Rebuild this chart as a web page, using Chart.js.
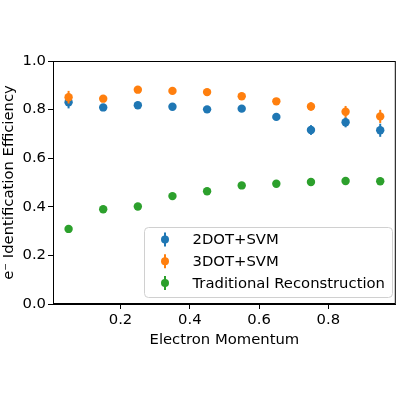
<!DOCTYPE html>
<html>
<head>
<meta charset="utf-8">
<script src="https://cdn.jsdelivr.net/npm/chart.js@4/dist/chart.umd.min.js"></script>
<style>
  html, body { margin: 0; padding: 0; background: #fff; }
</style>
</head>
<body>
<canvas id="effChart" width="400" height="400"></canvas>
<script>
// electron momentum bins (bin centres)
var momentum = [0.05, 0.15, 0.25, 0.35, 0.45, 0.55, 0.65, 0.75, 0.85, 0.95];

// 2DOT+SVM
var eff2dot = [0.830, 0.809, 0.818, 0.812, 0.801, 0.804, 0.770, 0.716, 0.748, 0.715];
var err2dot = [0.025, 0.008, 0.007, 0.007, 0.007, 0.008, 0.013, 0.020, 0.021, 0.027];

// 3DOT+SVM
var eff3dot = [0.851, 0.845, 0.882, 0.877, 0.872, 0.855, 0.834, 0.813, 0.791, 0.772];
var err3dot = [0.026, 0.008, 0.006, 0.006, 0.006, 0.008, 0.009, 0.017, 0.024, 0.027];

// traditional reconstruction
var effTrad = [0.309, 0.390, 0.401, 0.444, 0.464, 0.488, 0.495, 0.502, 0.506, 0.505];
var errTrad = [0.012, 0.006, 0.005, 0.005, 0.005, 0.005, 0.005, 0.005, 0.005, 0.005];

var seriesNames = ["2DOT+SVM", "3DOT+SVM", "Traditional Reconstruction"];
var seriesColors = ["#1f77b4", "#ff7f0e", "#2ca02c"];
var xTicks = [0.2, 0.4, 0.6, 0.8];
var yTicks = [0.0, 0.2, 0.4, 0.6, 0.8, 1.0];

var FONT = "DejaVu Sans";
var FSIZE = 14.8;

function points(ys) {
  return momentum.map(function (x, i) { return { x: x, y: ys[i] }; });
}

// vertical error bars, drawn under each dataset's markers
var errorBars = {
  id: "errorBars",
  beforeDatasetDraw: function (chart, args) {
    var ds = chart.data.datasets[args.index];
    var xs = chart.scales.x, ys = chart.scales.y;
    var ctx = chart.ctx;
    ctx.save();
    ctx.strokeStyle = ds.borderColor;
    ctx.lineWidth = 2;
    ds.data.forEach(function (p, i) {
      var px = xs.getPixelForValue(p.x);
      ctx.beginPath();
      ctx.moveTo(px, ys.getPixelForValue(p.y - ds.errors[i]));
      ctx.lineTo(px, ys.getPixelForValue(p.y + ds.errors[i]));
      ctx.stroke();
    });
    ctx.restore();
  }
};

// axes frame + matplotlib style legend in the lower right
var frameAndLegend = {
  id: "frameAndLegend",
  afterDraw: function (chart) {
    var ctx = chart.ctx, a = chart.chartArea;
    ctx.save();
    ctx.strokeStyle = "#000";
    ctx.lineWidth = 1;
    ctx.strokeRect(a.left + 0.5, a.top + 0.5, a.right - a.left - 1, a.bottom - a.top - 1);

    var bx = 144, by = 227, bw = 248, bh = 70, r = 4;
    ctx.fillStyle = "rgba(255,255,255,0.8)";
    ctx.strokeStyle = "#d0d0d0";
    ctx.beginPath();
    ctx.roundRect(bx + 0.5, by + 0.5, bw, bh, r);
    ctx.fill();
    ctx.stroke();

    ctx.font = FSIZE + "px '" + FONT + "'";
    ctx.textBaseline = "middle";
    ctx.textAlign = "left";
    seriesNames.forEach(function (name, i) {
      var cy = by + 12.5 + i * 21.7;
      ctx.strokeStyle = seriesColors[i];
      ctx.lineWidth = 2;
      ctx.beginPath();
      ctx.moveTo(165, cy - 7);
      ctx.lineTo(165, cy + 7);
      ctx.stroke();
      ctx.fillStyle = seriesColors[i];
      ctx.beginPath();
      ctx.arc(165, cy, 4, 0, Math.PI * 2);
      ctx.fill();
      ctx.fillStyle = "#000";
      ctx.fillText(name, 192.5, cy + 1);
    });
    ctx.restore();
  }
};

var ctx = document.getElementById("effChart").getContext("2d");
var chart = new Chart(ctx, {
  type: "scatter",
  data: {
    datasets: [
      { label: seriesNames[0], data: points(eff2dot), errors: err2dot, order: 3,
        backgroundColor: seriesColors[0], borderColor: seriesColors[0] },
      { label: seriesNames[1], data: points(eff3dot), errors: err3dot, order: 2,
        backgroundColor: seriesColors[1], borderColor: seriesColors[1] },
      { label: seriesNames[2], data: points(effTrad), errors: errTrad, order: 1,
        backgroundColor: seriesColors[2], borderColor: seriesColors[2] }
    ]
  },
  options: {
    responsive: false,
    animation: false,
    layout: { padding: { top: 61, right: 0, left: 0, bottom: 51 } },
    elements: { point: { radius: 4.2, borderWidth: 0, hoverRadius: 4.2 } },
    plugins: {
      legend: { display: false },
      tooltip: { enabled: false }
    },
    scales: {
      x: {
        type: "linear",
        min: 0.005,
        max: 0.995,
        afterBuildTicks: function (scale) {
          scale.ticks = xTicks.map(function (v) { return { value: v }; });
        },
        afterFit: function (scale) { scale.height = 45; },
        grid: { drawOnChartArea: false, drawTicks: true, tickLength: 5, tickWidth: 1, color: "#000" },
        border: { display: true, color: "#000", width: 1 },
        ticks: {
          color: "#000", padding: 2, maxRotation: 0,
          font: { family: FONT, size: FSIZE },
          callback: function (v) { return v.toFixed(1); }
        },
        title: {
          display: true, text: "Electron Momentum", color: "#000",
          font: { family: FONT, size: FSIZE }, padding: { top: 4, bottom: 0 }
        }
      },
      y: {
        type: "linear",
        min: 0,
        max: 1,
        afterBuildTicks: function (scale) {
          scale.ticks = yTicks.map(function (v) { return { value: v }; });
        },
        afterFit: function (scale) { scale.width = 53; },
        grid: { drawOnChartArea: false, drawTicks: true, tickLength: 5, tickWidth: 1, color: "#000" },
        border: { display: true, color: "#000", width: 1 },
        ticks: {
          color: "#000", padding: 2,
          font: { family: FONT, size: FSIZE },
          callback: function (v) { return v.toFixed(1); }
        },
        title: {
          display: true, text: "e\u207B Identification Efficiency", color: "#000",
          font: { family: FONT, size: FSIZE }, padding: { top: 0, bottom: 2 }
        }
      }
    }
  },
  plugins: [errorBars, frameAndLegend]
});
</script>
</body>
</html>
